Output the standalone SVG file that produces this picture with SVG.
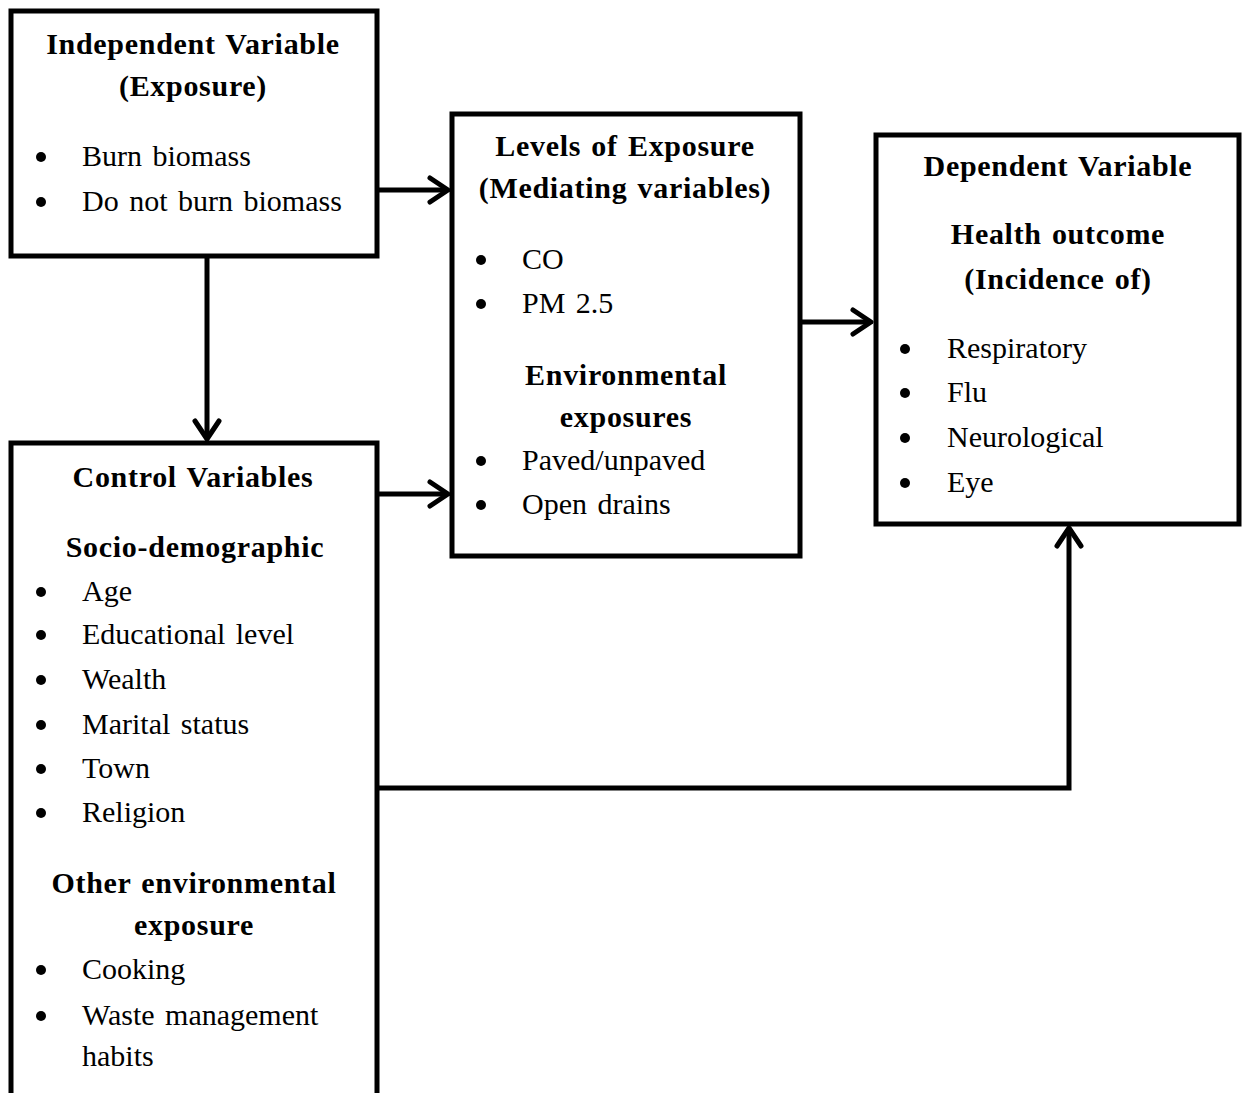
<svg xmlns="http://www.w3.org/2000/svg" width="1244" height="1093" viewBox="0 0 1244 1093">
<defs>
<style>
.box{fill:#fff;stroke:#000;stroke-width:5}
.t{font-family:"Liberation Serif","Times New Roman",serif;font-size:30px;fill:#000;word-spacing:3px}
.h{font-weight:bold;text-anchor:middle;letter-spacing:0.7px;word-spacing:2px}
.ln{fill:none;stroke:#000;stroke-width:5}
.ah{fill:none;stroke:#000;stroke-width:5;stroke-linecap:round;stroke-linejoin:round}
</style>
</defs>
<rect width="1244" height="1093" fill="#fff"/>
<g id="connectors">
<line class="ln" x1="378" y1="190" x2="448" y2="190"/>
<polyline class="ah" points="430,178 448,190 430,202"/>
<line class="ln" x1="207" y1="256" x2="207" y2="439"/>
<polyline class="ah" points="195,421 207,439 219,421"/>
<line class="ln" x1="378" y1="494" x2="448" y2="494"/>
<polyline class="ah" points="430,482 448,494 430,506"/>
<line class="ln" x1="801" y1="322" x2="871" y2="322"/>
<polyline class="ah" points="853,310 871,322 853,334"/>
<polyline class="ln" points="378,788 1069,788 1069,528"/>
<polyline class="ah" points="1057,546 1069,528 1081,546"/>
</g>
<g id="independent">
<rect class="box" x="11" y="11" width="366" height="245"/>
<text class="t h" x="193" y="54">Independent Variable</text>
<text class="t h" x="193" y="96">(Exposure)</text>
<circle cx="41" cy="157" r="5"/>
<text class="t" x="82" y="166">Burn biomass</text>
<circle cx="41" cy="202" r="5"/>
<text class="t" x="82" y="211">Do not burn biomass</text>
</g>
<g id="levels">
<rect class="box" x="452" y="114" width="348" height="442"/>
<text class="t h" x="625" y="156">Levels of Exposure</text>
<text class="t h" x="625" y="198">(Mediating variables)</text>
<circle cx="481" cy="260" r="5"/>
<text class="t" x="522" y="269">CO</text>
<circle cx="481" cy="304" r="5"/>
<text class="t" x="522" y="313">PM 2.5</text>
<text class="t h" x="626" y="385">Environmental</text>
<text class="t h" x="626" y="427">exposures</text>
<circle cx="481" cy="461" r="5"/>
<text class="t" x="522" y="470">Paved/unpaved</text>
<circle cx="481" cy="505" r="5"/>
<text class="t" x="522" y="514">Open drains</text>
</g>
<g id="dependent">
<rect class="box" x="876" y="135" width="363" height="389"/>
<text class="t h" x="1058" y="176">Dependent Variable</text>
<text class="t h" x="1058" y="244">Health outcome</text>
<text class="t h" x="1058" y="289">(Incidence of)</text>
<circle cx="905" cy="349" r="5"/>
<text class="t" x="947" y="358">Respiratory</text>
<circle cx="905" cy="393" r="5"/>
<text class="t" x="947" y="402">Flu</text>
<circle cx="905" cy="438" r="5"/>
<text class="t" x="947" y="447">Neurological</text>
<circle cx="905" cy="483" r="5"/>
<text class="t" x="947" y="492">Eye</text>
</g>
<g id="control">
<path class="box" d="M11,1100 V443 H377 V1100"/>
<text class="t h" x="193" y="487">Control Variables</text>
<text class="t h" x="195" y="557">Socio-demographic</text>
<circle cx="41" cy="592" r="5"/>
<text class="t" x="82" y="601">Age</text>
<circle cx="41" cy="635" r="5"/>
<text class="t" x="82" y="644">Educational level</text>
<circle cx="41" cy="680" r="5"/>
<text class="t" x="82" y="689">Wealth</text>
<circle cx="41" cy="725" r="5"/>
<text class="t" x="82" y="734">Marital status</text>
<circle cx="41" cy="769" r="5"/>
<text class="t" x="82" y="778">Town</text>
<circle cx="41" cy="813" r="5"/>
<text class="t" x="82" y="822">Religion</text>
<text class="t h" x="194" y="893">Other environmental</text>
<text class="t h" x="194" y="935">exposure</text>
<circle cx="41" cy="970" r="5"/>
<text class="t" x="82" y="979">Cooking</text>
<circle cx="41" cy="1016" r="5"/>
<text class="t" x="82" y="1025">Waste management</text>
<text class="t" x="82" y="1066">habits</text>
</g>
</svg>
